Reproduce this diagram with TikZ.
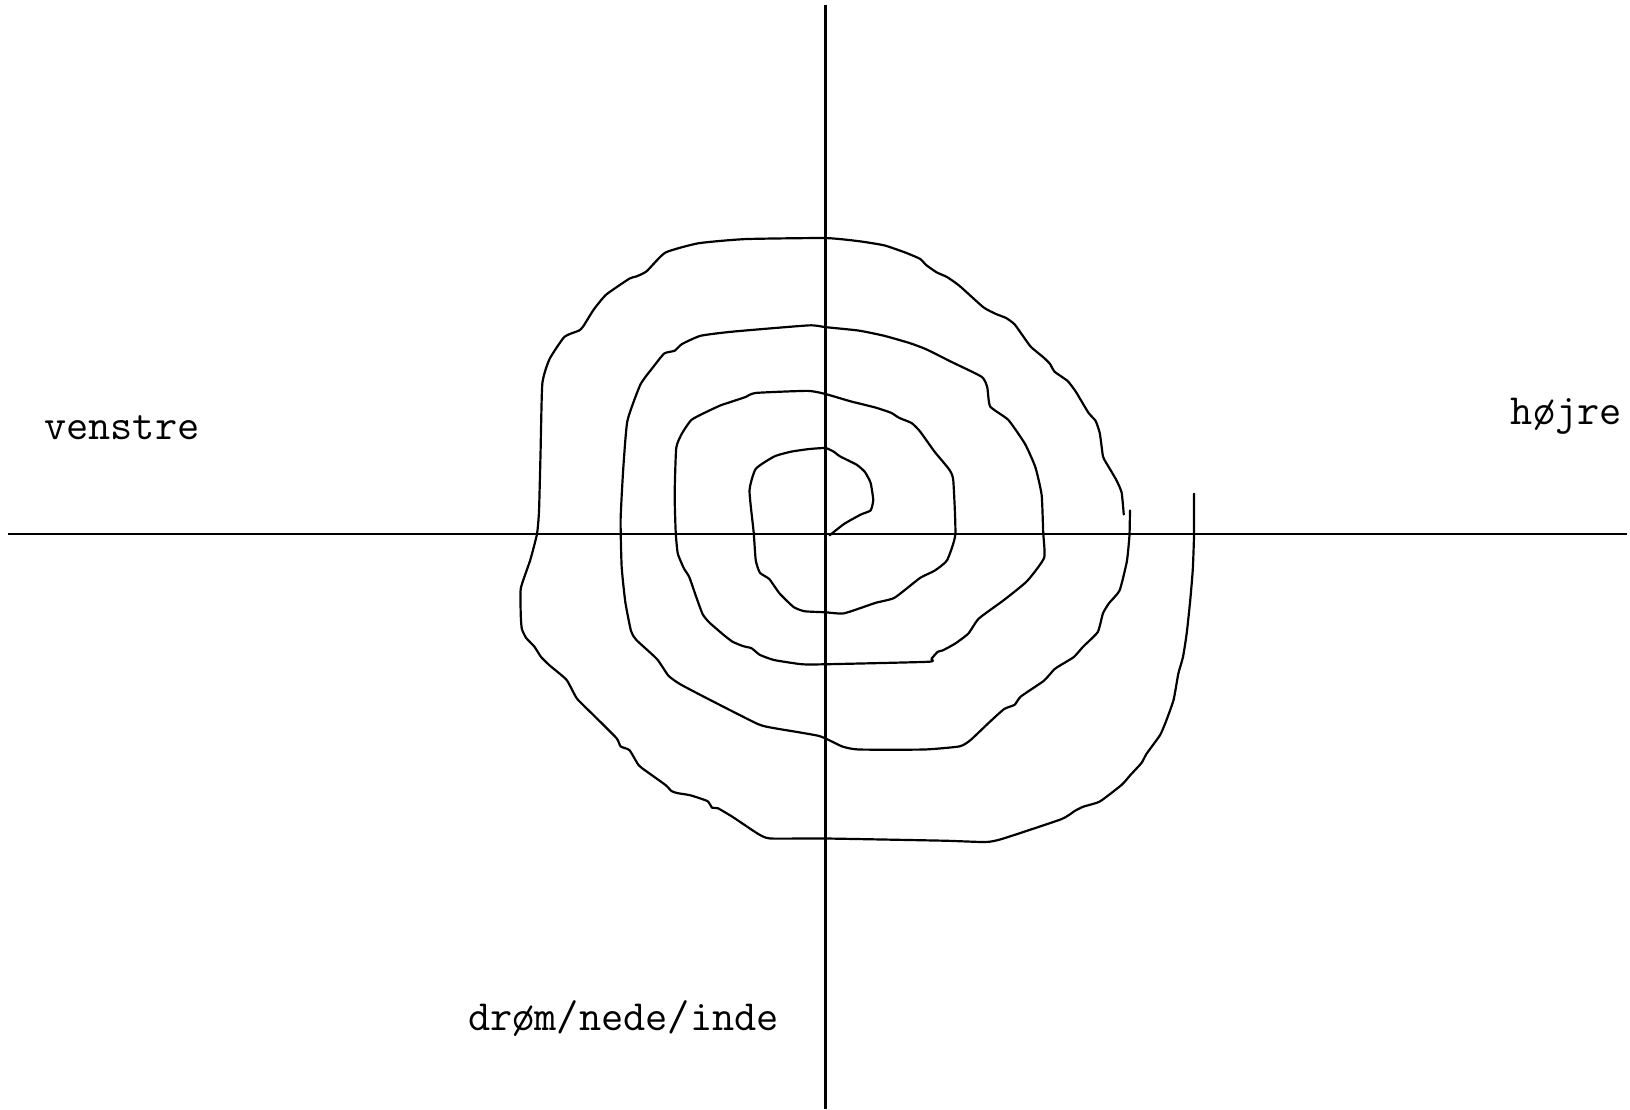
\documentclass[tikz,border=0pt]{standalone}
\usepackage{fontspec}
\usepackage{tikz}

\begin{document}
\begin{tikzpicture}[x=0.02cm,y=-0.02cm,
    pen/.style={line width=1.2pt,line join=round,line cap=round},
    word/.style={font=\ttfamily\fontsize{23.6}{28}\selectfont,anchor=base west,inner sep=0pt}]
  \useasboundingbox (0,0) rectangle (1568,1067);
  % axes
  \coordinate (west) at (8,514);
  \coordinate (east) at (1565,514);
  \coordinate (north) at (794,5);
  \coordinate (south) at (794,1067);
  \draw[pen,line cap=butt] (west) -- (east);
  \draw[pen,line cap=butt] (north) -- (south);
  % inner spiral, three turns
  \draw[pen] plot[smooth,tension=0.3] coordinates {
    (798,515) (812,504) (828,495) (837.5,491) (840,481) (837.5,464.5) (832,454)
    (824,447) (808,439) (802,434.5) (794,431) (778,432) (761,434.5) (745,439)
    (727,451) (721,472) (725,512) (727,539) (731,551) (740,557) (750,571)
    (763.5,584) (774,588) (794,589) (812,590) (842,580) (860.5,575) (885,556)
    (899,549) (911,539) (919,514) (917,462) (913,451.5) (899,434.5) (885,415)
    (877,407) (865,402) (857,397) (842,392) (818,386) (794,379) (777,376)
    (727,378) (717,382) (705,386) (693,390) (678,397) (665,404) (656,417)
    (650.5,431) (649,476) (650,512) (652,532.5) (658,547) (663,555) (670,575)
    (676,591) (682.5,599) (697,611.5) (705,617.5) (715,621.6) (723,623.6)
    (731,630) (745,635) (771.5,639) (794,639) (893,636.6) (896,633.7) (902,627)
    (907,625.6) (919,619) (931.5,609.5) (941.6,595) (966,577) (988,559)
    (1004.4,536.6) (1003.5,512) (1002,476) (996,449.5) (986,427) (970,404)
    (952.5,391) (949.7,372.6) (944.4,362.5) (915,348) (891,336) (875,330)
    (850.5,323) (826,318) (794,314.7) (778,313) (705,319) (674,323) (656,331)
    (649,337.4) (639,340) (628,353.5) (616,370) (603.5,405) (599.5,451.5)
    (597,500) (598,545) (601.5,579) (607,607) (612,615.5) (632,634) (643,650)
    (654,658) (680.5,672) (729,696.5) (745,700.5) (788,708) (810,718) (826,721)
    (889,721) (923,718) (933.5,712) (952,694.5) (966,682) (976,678) (982,670)
    (1004,655) (1014,644) (1020,640) (1033,632) (1042,622) (1056,608)
    (1061,590) (1067,580) (1077,568) (1084,540) (1086.5,515) (1087,491)};
  % outer turn
  \draw[pen] plot[smooth,tension=0.3] coordinates {
    (1081,495) (1079,474) (1074,462) (1064,445) (1061,439) (1058,417) (1054,405)
    (1047,397) (1035,377) (1027,366.5) (1014.5,357.6) (1010,350) (1004,344)
    (992,334) (986,326) (976,312) (968,306) (958,302) (946,295.6) (923,275)
    (911,266.5) (901,262) (891,255) (885,249) (871,243) (850.5,236) (826,232)
    (794,229) (717,230) (672,234) (640,243) (622,261) (612,266) (605.5,268)
    (583,283.5) (571,298) (561,314) (557,318) (543,324) (528.6,345.5)
    (521.7,369) (520,435) (518.5,492) (516.5,514) (510,539) (501,566) (501,593)
    (502,605) (506,613.5) (514,622) (520.5,632) (528.6,640) (545,654) (555,672)
    (571,688) (593,710) (597,718) (605.5,721.6) (613.6,735) (617.7,739)
    (640,755) (646,761) (652,763) (664,765) (680.5,770.6) (685,777)
    (690.6,777.5) (705,786) (729,802) (741,806.6) (794,806.6) (907,808.7)
    (948,810) (964,807) (1021,788) (1034,780) (1042,776) (1058,771) (1079,755)
    (1087,746) (1098,734) (1103,725) (1116,707) (1122,693) (1129,673)
    (1133.5,648) (1138,632) (1141.6,609) (1145,577) (1147.4,548) (1148.6,515)
    (1148.6,475)};
  % labels
  \node[word] (venstre) at (42,423) {venstre};
  \node[word] (hojre) at (1453,408) {højre};
  \node[word] (drom) at (450,991) {drøm/nede/inde};
\end{tikzpicture}
\end{document}
